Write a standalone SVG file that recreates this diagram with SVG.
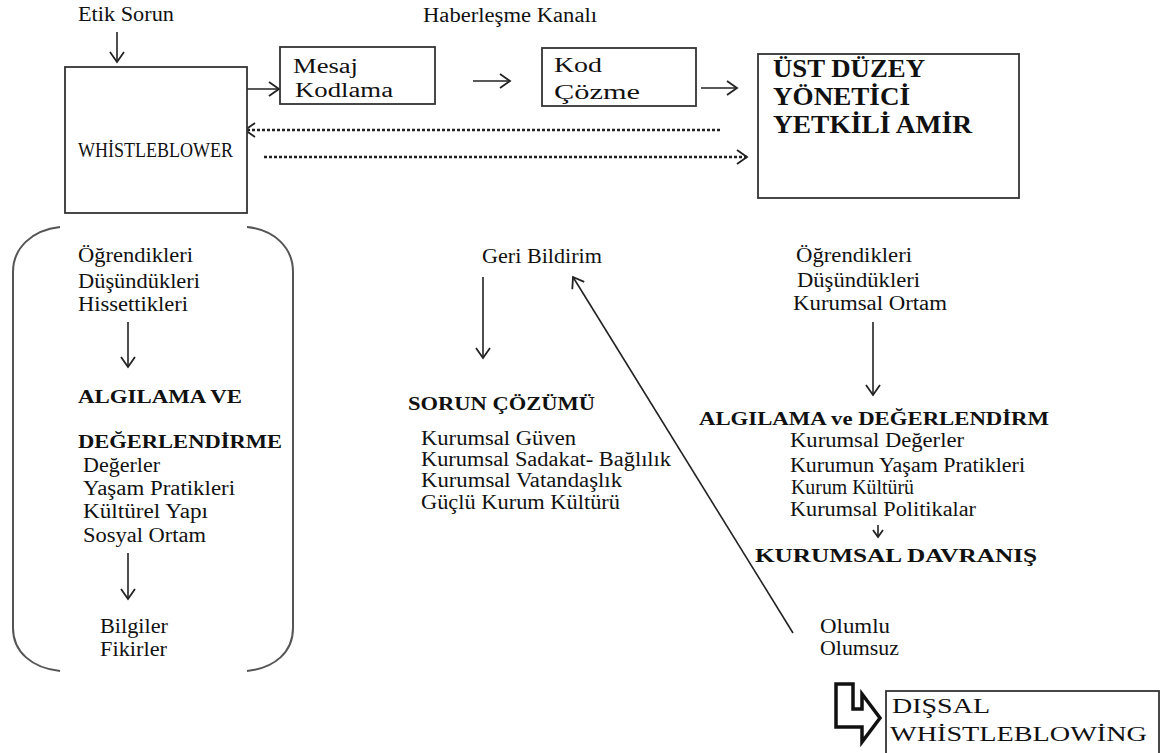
<svg xmlns="http://www.w3.org/2000/svg" width="1161" height="753" viewBox="0 0 1161 753">
<defs>
<style>
.t{font-family:"Liberation Serif","Times New Roman",serif;font-size:20px;fill:#111}
.b{font-weight:bold;font-size:19px}
.box{fill:#fff;stroke:#333;stroke-width:1.8}
.c{fill:none;stroke:#222;stroke-width:1.6}
.d{fill:none;stroke:#222;stroke-width:2.4;stroke-dasharray:3 2}
.br{fill:none;stroke:#555;stroke-width:2}
</style>
<marker id="ah" markerUnits="userSpaceOnUse" markerWidth="16" markerHeight="18" refX="12" refY="8" orient="auto">
<path d="M2,1 L12,8 L2,15" fill="none" stroke="#222" stroke-width="1.8"/>
</marker>
<marker id="ahs" markerUnits="userSpaceOnUse" markerWidth="12" markerHeight="12" refX="8" refY="6" orient="auto">
<path d="M1,1 L8,6 L1,11" fill="none" stroke="#222" stroke-width="1.8"/>
</marker>
</defs>
<rect width="1161" height="753" fill="#fff"/>

<g id="connectors">
<line class="c" x1="117" y1="32" x2="117" y2="62" marker-end="url(#ah)"/>
<line class="c" x1="243" y1="89" x2="279" y2="89" marker-end="url(#ah)"/>
<line class="c" x1="473" y1="81" x2="510" y2="81" marker-end="url(#ah)"/>
<line class="c" x1="701" y1="88" x2="737" y2="88" marker-end="url(#ah)"/>
<line class="d" x1="720" y1="130" x2="245" y2="130" marker-end="url(#ah)"/>
<line class="d" x1="264" y1="157" x2="747" y2="157" marker-end="url(#ah)"/>
<line class="c" x1="128" y1="322" x2="128" y2="367" marker-end="url(#ah)"/>
<line class="c" x1="128" y1="553" x2="128" y2="599" marker-end="url(#ah)"/>
<line class="c" x1="483" y1="277" x2="483" y2="358" marker-end="url(#ah)"/>
<line class="c" x1="793" y1="633" x2="573" y2="277" marker-end="url(#ah)"/>
<line class="c" x1="873" y1="322" x2="873" y2="395" marker-end="url(#ah)"/>
<line class="c" x1="878" y1="525" x2="878" y2="537" marker-end="url(#ahs)"/>
</g>

<g id="etik-sorun"><text class="t" x="78" y="21" font-size="20" textLength="96" lengthAdjust="spacingAndGlyphs">Etik Sorun</text></g>
<g id="haberlesme-kanali"><text class="t" x="423" y="22" font-size="21" textLength="174" lengthAdjust="spacingAndGlyphs">Haberleşme Kanalı</text></g>

<g id="whistleblower">
<rect class="box" x="65" y="67" width="182" height="146"/>
<text class="t" x="78" y="157" font-size="17" textLength="155" lengthAdjust="spacingAndGlyphs">WHİSTLEBLOWER</text>
</g>

<g id="mesaj-kodlama">
<rect class="box" x="280" y="47" width="155" height="57"/>
<text class="t" x="293" y="73" font-size="26" textLength="65" lengthAdjust="spacingAndGlyphs">Mesaj</text>
<text class="t" x="295" y="97" font-size="26" textLength="98" lengthAdjust="spacingAndGlyphs">Kodlama</text>
</g>

<g id="kod-cozme">
<rect class="box" x="542" y="48" width="154" height="58"/>
<text class="t" x="554" y="72" font-size="27" textLength="48" lengthAdjust="spacingAndGlyphs">Kod</text>
<text class="t" x="554" y="99" font-size="27" textLength="86" lengthAdjust="spacingAndGlyphs">Çözme</text>
</g>

<g id="ust-duzey">
<rect class="box" x="758" y="54" width="261" height="144"/>
<text class="t b" x="773" y="77" style="font-size:26px" textLength="152" lengthAdjust="spacingAndGlyphs">ÜST DÜZEY</text>
<text class="t b" x="773" y="105" style="font-size:26px" textLength="137" lengthAdjust="spacingAndGlyphs">YÖNETİCİ</text>
<text class="t b" x="773" y="133" style="font-size:26px" textLength="199" lengthAdjust="spacingAndGlyphs">YETKİLİ AMİR</text>
</g>

<g id="left-column">
<path class="br" d="M60,227 C32,230 13,248 13,272 L13,628 C13,652 32,668 60,671"/>
<path class="br" d="M247,227 C275,230 293,248 293,272 L293,628 C293,652 275,668 247,671"/>
<text class="t" x="78" y="262" textLength="115" lengthAdjust="spacingAndGlyphs">Öğrendikleri</text>
<text class="t" x="78" y="288" textLength="122" lengthAdjust="spacingAndGlyphs">Düşündükleri</text>
<text class="t" x="78" y="311" textLength="110" lengthAdjust="spacingAndGlyphs">Hissettikleri</text>
<text class="t b" x="78" y="403" textLength="164" lengthAdjust="spacingAndGlyphs">ALGILAMA VE</text>
<text class="t b" x="78" y="448" textLength="204" lengthAdjust="spacingAndGlyphs">DEĞERLENDİRME</text>
<text class="t" x="83" y="472" textLength="77" lengthAdjust="spacingAndGlyphs">Değerler</text>
<text class="t" x="83" y="495" textLength="152" lengthAdjust="spacingAndGlyphs">Yaşam Pratikleri</text>
<text class="t" x="83" y="518" textLength="125" lengthAdjust="spacingAndGlyphs">Kültürel Yapı</text>
<text class="t" x="83" y="542" textLength="123" lengthAdjust="spacingAndGlyphs">Sosyal Ortam</text>
<text class="t" x="100" y="633" textLength="68" lengthAdjust="spacingAndGlyphs">Bilgiler</text>
<text class="t" x="100" y="656" textLength="67" lengthAdjust="spacingAndGlyphs">Fikirler</text>
</g>

<g id="middle-column">
<text class="t" x="482" y="263" textLength="120" lengthAdjust="spacingAndGlyphs">Geri Bildirim</text>
<text class="t b" x="408" y="410" textLength="187" lengthAdjust="spacingAndGlyphs">SORUN ÇÖZÜMÜ</text>
<text class="t" x="421" y="445" textLength="155" lengthAdjust="spacingAndGlyphs">Kurumsal Güven</text>
<text class="t" x="421" y="466" textLength="250" lengthAdjust="spacingAndGlyphs">Kurumsal Sadakat- Bağlılık</text>
<text class="t" x="421" y="487" textLength="201" lengthAdjust="spacingAndGlyphs">Kurumsal Vatandaşlık</text>
<text class="t" x="421" y="509" textLength="199" lengthAdjust="spacingAndGlyphs">Güçlü Kurum Kültürü</text>
</g>

<g id="right-column">
<text class="t" x="796" y="262" textLength="116" lengthAdjust="spacingAndGlyphs">Öğrendikleri</text>
<text class="t" x="797" y="287" textLength="123" lengthAdjust="spacingAndGlyphs">Düşündükleri</text>
<text class="t" x="793" y="310" textLength="154" lengthAdjust="spacingAndGlyphs">Kurumsal Ortam</text>
<text class="t b" x="699" y="425" textLength="350" lengthAdjust="spacingAndGlyphs">ALGILAMA ve DEĞERLENDİRM</text>
<text class="t" x="790" y="447" textLength="174" lengthAdjust="spacingAndGlyphs">Kurumsal Değerler</text>
<text class="t" x="790" y="472" textLength="235" lengthAdjust="spacingAndGlyphs">Kurumun Yaşam Pratikleri</text>
<text class="t" x="791" y="494" textLength="123" lengthAdjust="spacingAndGlyphs">Kurum Kültürü</text>
<text class="t" x="790" y="516" textLength="186" lengthAdjust="spacingAndGlyphs">Kurumsal Politikalar</text>
<text class="t b" x="755" y="562" textLength="282" lengthAdjust="spacingAndGlyphs">KURUMSAL DAVRANIŞ</text>
</g>

<g id="olumlu-olumsuz">
<text class="t" x="820" y="633" textLength="70" lengthAdjust="spacingAndGlyphs">Olumlu</text>
<text class="t" x="820" y="655" textLength="79" lengthAdjust="spacingAndGlyphs">Olumsuz</text>
</g>

<g id="bent-arrow">
<path d="M836,684 L853,684 L853,709 L862,709 L862,694 L880,718 L862,742 L862,727 L836,727 Z" fill="#fff" stroke="#111" stroke-width="3.5" stroke-linejoin="miter"/>
</g>

<g id="dissal-whistleblowing">
<rect class="box" x="886" y="691" width="273" height="70"/>
<text class="t" x="892" y="713" font-size="24" textLength="98" lengthAdjust="spacingAndGlyphs">DIŞSAL</text>
<text class="t" x="890" y="741" font-size="24" textLength="257" lengthAdjust="spacingAndGlyphs">WHİSTLEBLOWİNG</text>
</g>
</svg>
